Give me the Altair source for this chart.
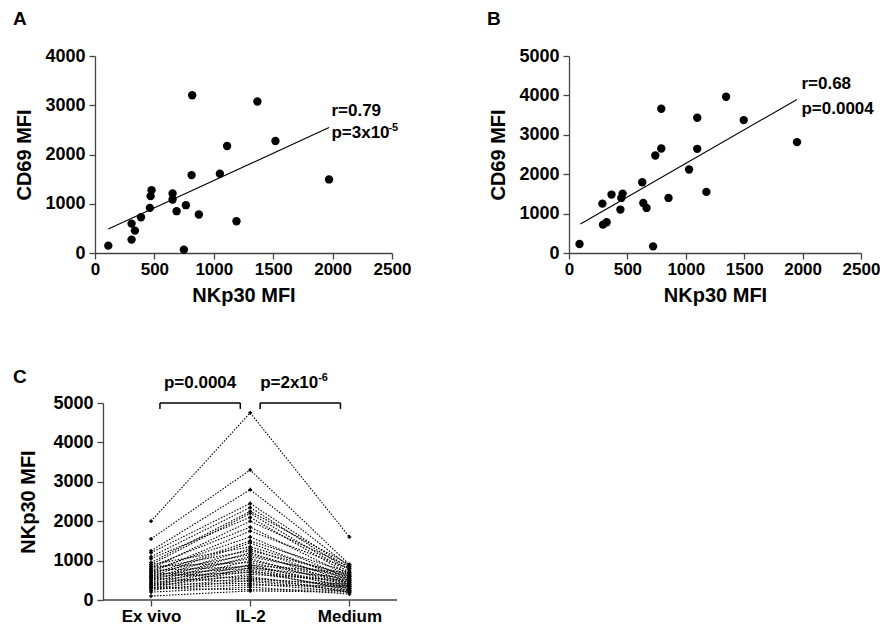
import json
import altair as alt
import pandas as pd

FONT = "Liberation Sans"

# ---------------- Panel A data ----------------
a_x = [112, 308, 308, 336, 387, 462, 468, 476, 653, 653, 687, 765, 748, 813, 818, 874, 1051, 1112, 1191, 1367, 1519, 1970]
a_y = [149, 272, 597, 455, 726, 916, 1154, 1276, 1208, 1086, 849, 971, 68, 1582, 3204, 781, 1609, 2172, 645, 3075, 2274, 1494]
a_fit_x = [112, 1970]
a_fit_y = [489, 2546]
a_xticks = [0, 500, 1000, 1500, 2000, 2500]
a_yticks = [0, 1000, 2000, 3000, 4000]
a_stats = ["r=0.79", "p=3x10"]
a_stats_y = [2773, 2325]
a_sup = "-5"

# ---------------- Panel B data ----------------
b_x = [90, 286, 291, 322, 364, 440, 448, 459, 627, 636, 664, 720, 739, 790, 790, 852, 1028, 1098, 1098, 1176, 1345, 1496, 1952]
b_y = [229, 1254, 720, 780, 1483, 1102, 1398, 1508, 1797, 1271, 1144, 169, 2475, 3661, 2653, 1398, 2119, 3432, 2644, 1551, 3966, 3373, 2814]
b_fit_x = [98, 1952]
b_fit_y = [737, 3898]
b_xticks = [0, 500, 1000, 1500, 2000, 2500]
b_yticks = [0, 1000, 2000, 3000, 4000, 5000]
b_stats = ["r=0.68", "p=0.0004"]
b_stats_y = [4155, 3519]

# ---------------- Panel C data ----------------
conditions = ["Ex vivo", "IL-2", "Medium"]
c_exvivo = [2000, 1550, 1250, 1200, 1100, 950, 900, 1050, 800, 850, 700, 750, 650, 600, 900, 550, 800, 500, 700, 450,
            600, 400, 850, 350, 550, 750, 300, 650, 500, 400, 600, 350, 450, 300, 700, 250, 550, 400, 300, 200, 300, 100]
c_il2 = [4750, 3300, 2800, 2450, 2350, 2250, 2200, 2100, 2000, 1850, 1750, 1600, 1500, 1450, 1350, 1300, 1250, 1200, 1150, 1100,
         1050, 1000, 950, 900, 880, 850, 820, 800, 760, 720, 700, 650, 600, 560, 530, 500, 470, 420, 380, 330, 260, 230]
c_medium = [1600, 900, 850, 800, 750, 900, 700, 650, 850, 600, 800, 550, 700, 500, 600, 450, 650, 400, 550, 600,
            350, 500, 450, 300, 700, 400, 550, 350, 250, 450, 300, 500, 200, 350, 400, 300, 250, 200, 350, 150, 250, 200]
c_yticks = [0, 1000, 2000, 3000, 4000, 5000]
c_pvals = ["p=0.0004", "p=2x10"]
c_sup = "-6"
brk_x1 = [0.09, 1.10]
brk_x2 = [0.90, 1.91]
brk_top = 5000
brk_bottom = 4850
c_xdomain = [-0.565, 2.48]
c_axis_start = -0.484   # where the y axis of panel C stands on the x scale

panel_letters = ["A", "B", "C"]

BOLD = dict(font=FONT, fontWeight="bold", color="black")


def axis(values, title, orient_x, **kw):
    opts = dict(values=values, tickCount=20, title=title, format="d", labelOverlap=False, labelFlush=False,
                labelFontSize=17 if orient_x else 18, labelPadding=2 if orient_x else 4, grid=False)
    opts["titlePadding"] = 8 if orient_x else 10
    opts.update(kw)
    return alt.Axis(**opts)


def letter(ch, dx, dy):
    return alt.Chart(pd.DataFrame({"t": [ch]})).mark_text(
        align="left", baseline="top", fontSize=19, **BOLD
    ).encode(text="t:N", x=alt.value(dx), y=alt.value(dy))


def scatter_panel(xs, ys, fx, fy, xticks, yticks, stats, stats_y, sup, ch, width):
    xscale = alt.Scale(domain=[0, 2500], nice=False, zero=False)
    yscale = alt.Scale(domain=[0, max(yticks)], nice=False, zero=False)
    xax = axis(xticks, "NKp30 MFI", True)
    yax = axis(yticks, "CD69 MFI", False)
    pts = alt.Chart(pd.DataFrame({"x": xs, "y": ys})).mark_point(
        filled=True, color="black", size=70, opacity=1
    ).encode(x=alt.X("x:Q", scale=xscale, axis=xax), y=alt.Y("y:Q", scale=yscale, axis=yax))
    fit = alt.Chart(pd.DataFrame({"x": fx, "y": fy})).mark_line(
        color="black", strokeWidth=1.1
    ).encode(x="x:Q", y="y:Q")
    txt = alt.Chart(pd.DataFrame({"x": [1990] * len(stats), "y": stats_y, "t": stats})).mark_text(
        align="left", baseline="alphabetic", fontSize=17, **BOLD
    ).encode(x="x:Q", y="y:Q", text="t:N")
    layers = [pts, fit, txt]
    if sup:
        s = alt.Chart(pd.DataFrame({"x": [1990], "y": [stats_y[1]], "t": [sup]})).mark_text(
            align="left", baseline="alphabetic", fontSize=11, dx=57, dy=-7, **BOLD
        ).encode(x="x:Q", y="y:Q", text="t:N")
        layers.append(s)
    layers.append(letter(ch, -82, -46))
    return alt.layer(*layers).properties(width=width, height=197)


panel_a = scatter_panel(a_x, a_y, a_fit_x, a_fit_y, a_xticks, a_yticks, a_stats, a_stats_y, a_sup, panel_letters[0], 297)
panel_b = scatter_panel(b_x, b_y, b_fit_x, b_fit_y, b_xticks, b_yticks, b_stats, b_stats_y, None, panel_letters[1], 292)

# Panel C
rows = []
for i, (e, il, m) in enumerate(zip(c_exvivo, c_il2, c_medium)):
    rows += [{"donor": i, "cond": 0, "val": e}, {"donor": i, "cond": 1, "val": il}, {"donor": i, "cond": 2, "val": m}]
cdf = pd.DataFrame(rows)

label_expr = json.dumps(conditions) + "[datum.value]"
cx = alt.X("cond:Q", scale=alt.Scale(domain=c_xdomain, nice=False, zero=False),
           axis=alt.Axis(values=[0, 1, 2], tickCount=20, labelExpr=label_expr, title=None, labelOverlap=False,
                         labelFlush=False, labelFontSize=17, labelPadding=2, grid=False, domain=False))
cy = alt.Y("val:Q", scale=alt.Scale(domain=[0, 5000], nice=False, zero=False),
           axis=axis(c_yticks, "NKp30 MFI", False, offset=-8, titlePadding=14))

c_lines = alt.Chart(cdf).mark_line(color="black", strokeWidth=1.1, strokeDash=[1.5, 1.5]).encode(
    x=cx, y=cy, detail="donor:N")
c_pts = alt.Chart(cdf).mark_point(shape="cross", filled=True, color="black", size=14, opacity=1).encode(
    x="cond:Q", y="val:Q")
c_base = alt.Chart(pd.DataFrame({"x1": [c_axis_start], "x2": [c_xdomain[1]], "y": [0]})).mark_rule(
    color="#444", strokeWidth=1.3).encode(x="x1:Q", x2="x2:Q", y="y:Q")
brk_h = alt.Chart(pd.DataFrame({"x1": brk_x1, "x2": brk_x2, "y": [brk_top] * 2})).mark_rule(
    color="black", strokeWidth=1.5).encode(x="x1:Q", x2="x2:Q", y="y:Q")
brk_v = alt.Chart(pd.DataFrame({"x": brk_x1 + brk_x2, "y": [brk_top] * 4, "y2": [brk_bottom] * 4})).mark_rule(
    color="black", strokeWidth=1.5).encode(x="x:Q", y="y:Q", y2="y2:Q")
p1 = alt.Chart(pd.DataFrame({"x": [(brk_x1[0] + brk_x2[0]) / 2], "y": [5390], "t": [c_pvals[0]]})).mark_text(
    align="center", baseline="alphabetic", fontSize=17, **BOLD).encode(x="x:Q", y="y:Q", text="t:N")
p2 = alt.Chart(pd.DataFrame({"x": [brk_x1[1]], "y": [5390], "t": [c_pvals[1]]})).mark_text(
    align="left", baseline="alphabetic", fontSize=17, **BOLD).encode(x="x:Q", y="y:Q", text="t:N")
p2s = alt.Chart(pd.DataFrame({"x": [brk_x1[1]], "y": [5390], "t": [c_sup]})).mark_text(
    align="left", baseline="alphabetic", fontSize=11, dx=58, dy=-7, **BOLD).encode(x="x:Q", y="y:Q", text="t:N")

panel_c = alt.layer(c_lines, c_pts, c_base, brk_h, brk_v, p1, p2, p2s,
                    letter(panel_letters[2], -82, -35)).properties(width=302, height=197)

top = alt.hconcat(panel_a, panel_b, spacing=177, bounds="flush")
chart = alt.vconcat(top, panel_c, spacing=63).properties(
    padding={"left": 5, "top": 2, "right": 0, "bottom": 0}
).configure_view(stroke=None).configure_axis(
    labelFont=FONT, labelFontWeight="bold", labelColor="black",
    titleFont=FONT, titleFontSize=20, titleFontWeight="bold", titleColor="black",
    domainColor="#444", tickColor="#444", tickSize=6, domainWidth=1.3, tickWidth=1.3
)

chart.save("out.html", embed_options={"renderer": "svg", "actions": False})
